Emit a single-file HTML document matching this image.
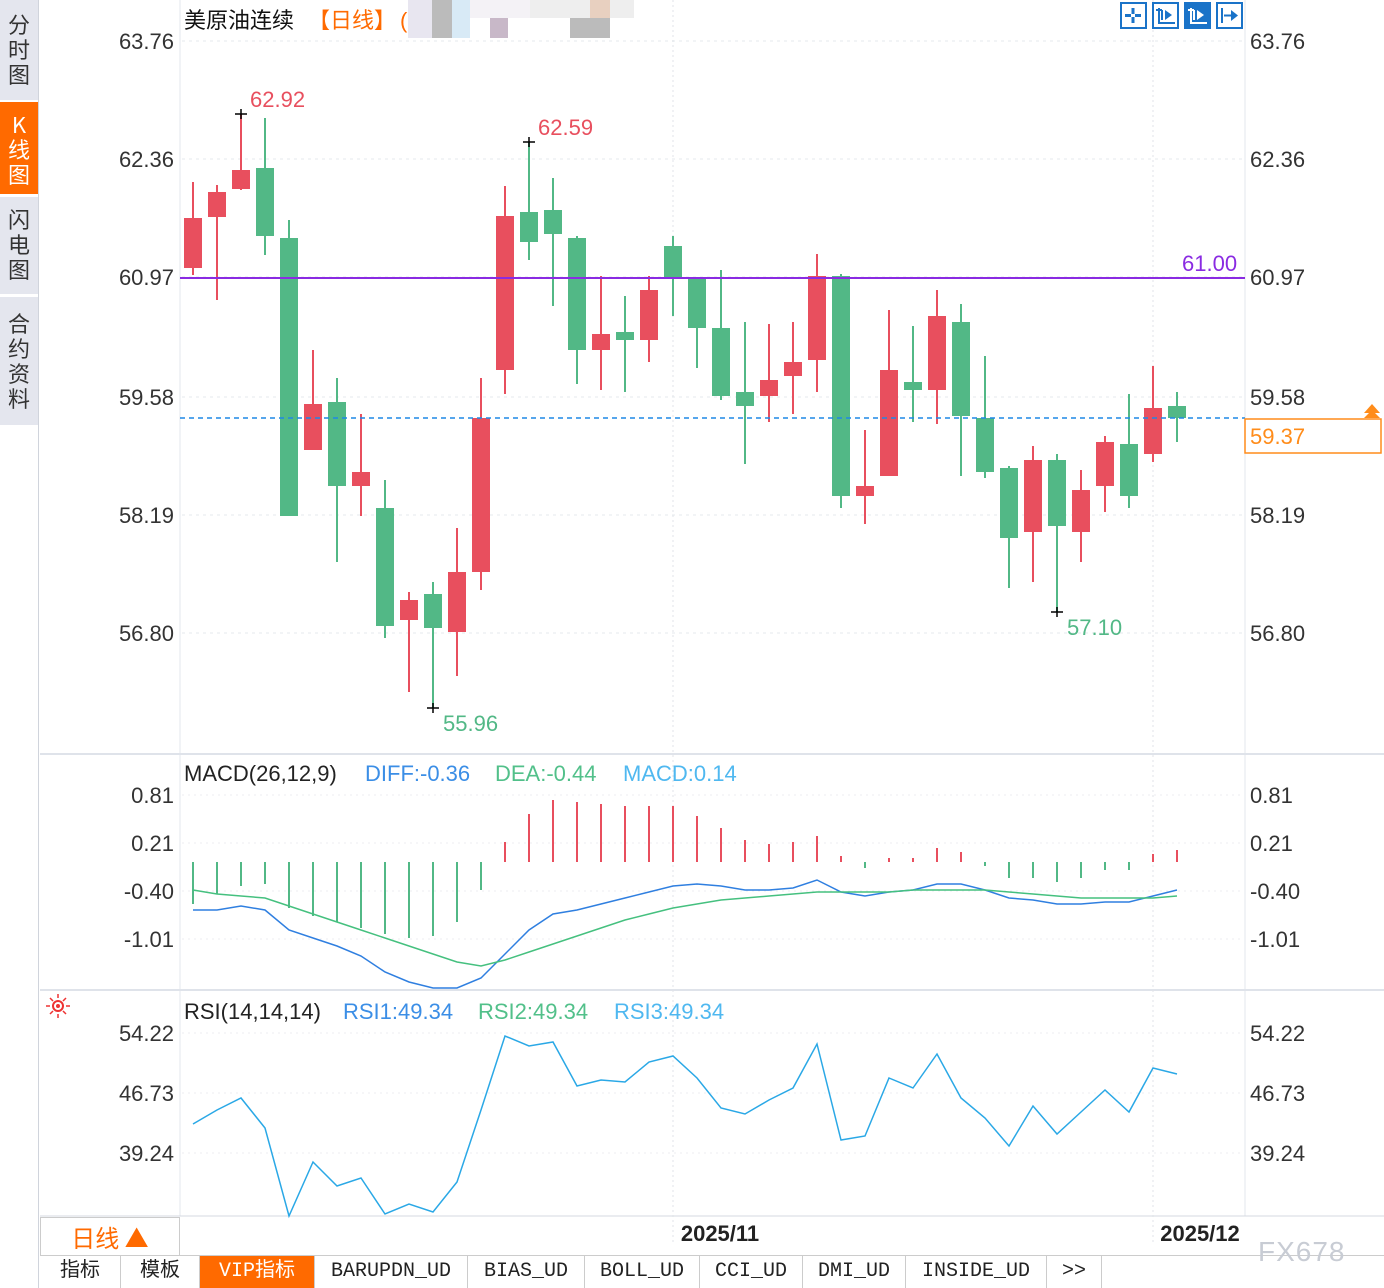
<!DOCTYPE html>
<html><head><meta charset="utf-8"><style>
body{margin:0;width:1384px;height:1288px;overflow:hidden;background:#fff;font-family:"Liberation Sans","Noto Sans CJK SC",sans-serif;}
#side{position:absolute;left:0;top:0;width:38px;height:1288px;background:#fff;border-right:1px solid #d0d4dc;}
.tab{position:absolute;left:0;width:38px;background:#e4e6ee;color:#333;font-size:22px;line-height:25px;text-align:center;font-family:"Noto Sans CJK SC",sans-serif;}
svg{position:absolute;left:0;top:0;}
.bt{position:absolute;top:1256px;height:32px;line-height:32px;font-size:20px;color:#222;text-align:center;border-right:1px solid #ccc;font-family:"Liberation Mono","Noto Sans CJK SC",monospace;}
</style></head><body>
<div id="side">
<div class="tab" style="top:0;height:100px;padding-top:12px;box-sizing:border-box">分<br>时<br>图</div>
<div class="tab" style="top:102px;height:92px;background:#ff6a00;color:#fff;padding-top:10px;box-sizing:border-box">K<br>线<br>图</div>
<div class="tab" style="top:197px;height:97px;padding-top:10px;box-sizing:border-box">闪<br>电<br>图</div>
<div class="tab" style="top:297px;height:128px;padding-top:14px;box-sizing:border-box">合<br>约<br>资<br>料</div>
</div>
<svg id="s" width="1384" height="1288" xmlns="http://www.w3.org/2000/svg"></svg>
<div style="position:absolute;left:40px;top:1217px;width:138px;height:37px;border:1px solid #ccc;background:#fff;color:#ff6a00;font-size:24px;line-height:37px;text-align:center;font-family:'Noto Sans CJK SC',sans-serif">日线 ▲</div>
<div style="position:absolute;left:40px;top:1255px;width:1344px;height:1px;background:#ccc"></div>
<div class="bt" style="left:40px;width:80px">指标</div>
<div class="bt" style="left:121px;width:78px">模板</div>
<div class="bt" style="left:200px;width:114px;background:#ff6a00;color:#fff">VIP指标</div>
<div class="bt" style="left:315px;width:152px">BARUPDN_UD</div>
<div class="bt" style="left:468px;width:116px">BIAS_UD</div>
<div class="bt" style="left:585px;width:114px">BOLL_UD</div>
<div class="bt" style="left:700px;width:102px">CCI_UD</div>
<div class="bt" style="left:803px;width:102px">DMI_UD</div>
<div class="bt" style="left:906px;width:140px">INSIDE_UD</div>
<div class="bt" style="left:1047px;width:54px">&gt;&gt;</div>
<div style="position:absolute;left:1258px;top:1236px;font-size:28px;color:#c8ccd4;letter-spacing:1px">FX678</div>
<script>
var s=document.getElementById('s'),h='';
var R='#e84f5e',G='#52b886';
function t(x,y,str,c,sz,a,b){h+='<text x="'+x+'" y="'+y+'" fill="'+c+'" font-size="'+(sz||22)+'" text-anchor="'+(a||'start')+'"'+(b?' font-weight="bold"':'')+' font-family="Liberation Sans,Noto Sans CJK SC,sans-serif">'+str+'</text>';}
function l(x1,y1,x2,y2,c,w,d){h+='<line x1="'+x1+'" y1="'+y1+'" x2="'+x2+'" y2="'+y2+'" stroke="'+c+'" stroke-width="'+(w||1)+'"'+(d?' stroke-dasharray="'+d+'"':'')+'/>';}
l(180,0,180,1216,'#e3e7ee',1);l(1245,0,1245,1216,'#e3e7ee',1);
l(40,754,1384,754,'#dfe3ea',2);l(40,990,1384,990,'#dfe3ea',2);l(40,1216,1384,1216,'#d5d9e0',1);
[41,159,277,397,515,633].forEach(function(y){l(182,y,1243,y,'#e6e9ee',1,'3 4');});
[795,843,891,939,1033,1093,1153].forEach(function(y){l(182,y,1243,y,'#eceef2',1,'2 4');});
l(673,0,673,1245,'#e0e3e8',1,'2 3');l(1153,0,1153,1245,'#e0e3e8',1,'2 3');
var pl=[['63.76',41],['62.36',159],['60.97',277],['59.58',397],['58.19',515],['56.80',633]];
pl.forEach(function(p){t(174,p[1]+8,p[0],'#333',22,'end');t(1250,p[1]+8,p[0],'#333',22);});
[['0.81',795],['0.21',843],['-0.40',891],['-1.01',939]].forEach(function(p){t(174,p[1]+8,p[0],'#333',22,'end');t(1250,p[1]+8,p[0],'#333',22);});
[['54.22',1033],['46.73',1093],['39.24',1153]].forEach(function(p){t(174,p[1]+8,p[0],'#333',22,'end');t(1250,p[1]+8,p[0],'#333',22);});
var C=[['r',182,218,268,275],['r',185,192,217,300],['r',114,170,189,190],['g',118,168,236,255],['g',220,238,516,516],['r',350,404,450,450],['g',378,402,486,562],['r',414,472,486,516],['g',480,508,626,638],['r',592,600,620,692],['g',582,594,628,708],['r',528,572,632,676],['r',378,418,572,590],['r',186,216,370,394],['g',142,212,242,260],['g',178,210,234,306],['g',236,238,350,384],['r',276,334,350,390],['g',296,332,340,392],['r',276,290,340,362],['g',236,246,278,316],['g',278,278,328,368],['g',270,328,396,400],['g',322,392,406,464],['r',324,380,396,422],['r',322,362,376,414],['r',254,276,360,392],['g',274,276,496,508],['r',430,486,496,524],['r',310,370,476,476],['g',326,382,390,422],['r',290,316,390,424],['g',304,322,416,476],['g',356,418,472,478],['g',466,468,538,588],['r',446,460,532,582],['g',454,460,526,612],['r',470,490,532,562],['r',436,442,486,512],['g',394,444,496,508],['r',366,408,454,462],['g',392,406,418,442]];
C.forEach(function(c,i){var x=193+i*24,col=c[0]=='r'?R:G;l(x,c[1],x,c[4],col,2);h+='<rect x="'+(x-9)+'" y="'+c[2]+'" width="18" height="'+Math.max(2,c[3]-c[2])+'" fill="'+col+'"/>';});
l(235,114,247,114,'#000',1.5);l(241,109,241,119,'#000',1.5);t(250,107,'62.92',R,22);
l(523,142,535,142,'#000',1.5);l(529,137,529,147,'#000',1.5);t(538,135,'62.59',R,22);
l(427,708,439,708,'#000',1.5);l(433,703,433,713,'#000',1.5);t(443,731,'55.96',G,22);
l(1051,612,1063,612,'#000',1.5);l(1057,607,1057,617,'#000',1.5);t(1067,635,'57.10',G,22);
l(180,278,1245,278,'#8a2be2',2);t(1182,271,'61.00','#8a2be2',22);
l(180,418,1245,418,'#1e88e5',1.5,'5 4');
h+='<rect x="1245" y="419" width="136" height="34" fill="#fff" stroke="#ff8c1a" stroke-width="1.5"/>';t(1250,444,'59.37','#ff8c1a',22);
h+='<path d="M1364 413 L1372 404 L1380 413 Z M1364 418 L1372 410 L1380 418 Z" fill="#ff8c1a"/>';
t(184,28,'美原油连续','#111',22);t(308,28,'【日线】','#ff6a00',22);t(400,28,'(','#ff6a00',22);
h+='<rect x="408" y="0" width="60" height="38" fill="#e8e6f0"/><rect x="432" y="0" width="20" height="38" fill="#bbb"/><rect x="452" y="0" width="18" height="38" fill="#d8eaf6"/><rect x="470" y="0" width="100" height="18" fill="#f4f2f6"/><rect x="490" y="18" width="18" height="20" fill="#c8b8c8"/><rect x="530" y="0" width="104" height="18" fill="#eee"/><rect x="570" y="18" width="40" height="20" fill="#bbb"/><rect x="590" y="0" width="20" height="18" fill="#e8d0c0"/>';
[1120,1152,1184,1216].forEach(function(x,i){h+='<rect x="'+(x+1)+'" y="3" width="25" height="25" fill="'+(i==2?'#1a73c8':'#fff')+'" stroke="#1a73c8" stroke-width="2"/>';
var c=i==2?'#fff':'#1a73c8';if(i==0){h+='<path d="M1133 8v6M1133 17v6M1125 15.5h6M1135 15.5h6" stroke="'+c+'" stroke-width="3"/>';}else if(i==3){h+='<path d="M'+(x+6)+' 8v15M'+(x+8)+' 15.5h8" stroke="'+c+'" stroke-width="2"/><path d="M'+(x+15)+' 10l7 5.5-7 5.5z" fill="'+c+'"/>';}else{h+='<path d="M'+(x+7)+' 8v15h16M'+(x+10)+' 10v10M'+(x+4)+' 10h6" stroke="'+c+'" stroke-width="2" fill="none"/><path d="M'+(x+13)+' 10l7 5-7 5z" fill="'+c+'"/>';}});
t(184,781,'MACD(26,12,9)','#222',22);t(365,781,'DIFF:-0.36','#3b8ee6',22);t(495,781,'DEA:-0.44','#52c08a',22);t(623,781,'MACD:0.14','#4fb8f0',22);
var M=[904,894,886,884,908,916,922,928,934,938,936,922,890,842,814,800,802,804,806,806,806,816,828,840,844,842,836,856,868,858,858,848,852,866,878,878,882,878,870,870,854,850];
M.forEach(function(v,i){var x=193+i*24;l(x,862,x,v,v<862?R:G,2);});
var D=[910,910,906,910,930,938,946,956,972,982,988,988,978,954,930,914,910,904,898,892,886,884,886,890,890,888,880,892,896,892,890,884,884,890,898,900,904,904,902,902,896,890];
var E=[890,894,896,898,906,914,922,930,938,946,954,962,966,960,952,944,936,928,920,914,908,904,900,898,896,894,892,892,892,892,890,890,890,890,892,894,896,898,898,898,898,896];
function pl2(a,c){h+='<polyline fill="none" stroke="'+c+'" stroke-width="1.5" points="'+a.map(function(v,i){return (193+i*24)+','+v;}).join(' ')+'"/>';}
pl2(D,'#2f7fe0');pl2(E,'#45c07f');
h+='<circle cx="58" cy="1006" r="5" fill="none" stroke="#e33" stroke-width="2"/><circle cx="58" cy="1006" r="2" fill="#e33"/><path d="M46 1006h4M66 1006h4M58 994v4M58 1014v4M50 998l3 3M63 1011l3 3M66 998l-3 3M50 1014l3-3" stroke="#e33" stroke-width="1.5"/>';
t(184,1019,'RSI(14,14,14)','#222',22);t(343,1019,'RSI1:49.34','#3b8ee6',22);t(478,1019,'RSI2:49.34','#52c08a',22);t(614,1019,'RSI3:49.34','#4fb8f0',22);
var S=[1124,1110,1098,1128,1216,1162,1186,1178,1214,1204,1212,1182,1110,1036,1046,1042,1086,1080,1082,1062,1056,1078,1108,1114,1100,1088,1044,1140,1136,1078,1088,1054,1098,1118,1146,1106,1134,1112,1090,1112,1068,1074];
pl2(S,'#2aa8e6');
t(720,1241,'2025/11','#222',22,'middle',1);t(1200,1241,'2025/12','#222',22,'middle',1);
s.innerHTML=h;
</script>
</body></html>
